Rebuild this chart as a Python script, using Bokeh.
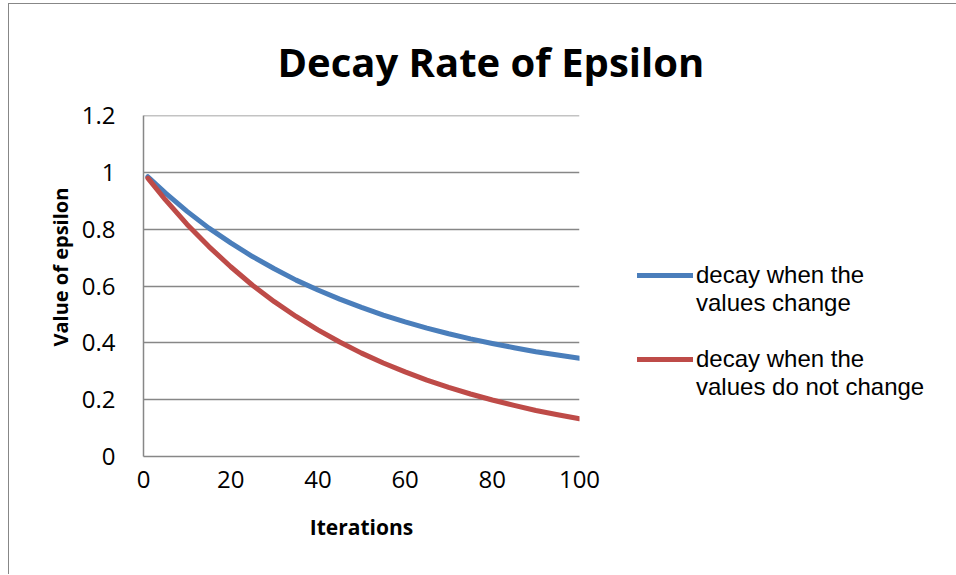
from bokeh.plotting import figure
from bokeh.models import (FixedTicker, CustomJSTickFormatter, Legend, LegendItem, Range1d, Title)
from bokeh.embed import file_html
from bokeh.resources import INLINE

# ---- data ----
iterations = [1, 5, 10, 15, 20, 25, 30, 35, 40, 45, 50, 55, 60, 65, 70, 75, 80, 85, 90, 95, 100]
decay_values_change = [0.985, 0.928, 0.863, 0.804, 0.752, 0.704, 0.661, 0.621, 0.586, 0.554, 0.525,
                       0.498, 0.474, 0.452, 0.432, 0.414, 0.398, 0.383, 0.369, 0.357, 0.346]
decay_values_no_change = [0.980, 0.904, 0.817, 0.739, 0.668, 0.603, 0.545, 0.493, 0.446, 0.403, 0.364,
                          0.329, 0.298, 0.269, 0.243, 0.220, 0.199, 0.180, 0.162, 0.147, 0.133]
x_ticks = [0, 20, 40, 60, 80, 100]
y_ticks = [0, 0.2, 0.4, 0.6, 0.8, 1.0, 1.2]
title_text = "Decay Rate of Epsilon"
x_title = "Iterations"
y_title = "Value of epsilon"
legend_labels = [" \ndecay when the\nvalues change", " \ndecay when the\nvalues do not change"]

BLUE = "#4A7EBB"
RED = "#BE4B48"
GRID = "#878787"
FONT = "Open Sans"
LEGEND_FONT = "Liberation Sans"

p = figure(frame_width=436, frame_height=341,
           min_border_left=134, min_border_right=376, min_border_top=111, min_border_bottom=118,
           x_range=Range1d(0, 100), y_range=Range1d(0, 1.2005),
           output_backend="svg", toolbar_location=None,
           background_fill_color="white", border_fill_color="white")
p.styles = {"margin-left": "8px", "margin-top": "3px",
            "border-left": "1px solid #878787", "border-top": "1px solid #878787"}
p.outline_line_color = None

# title
p.title.text = title_text
p.title.text_font = FONT
p.title.text_font_style = "bold"
p.title.text_font_size = "40px"
p.title.text_color = "black"
p.title.align = "left"
p.title.offset = 134
p.title.vertical_align = "bottom"
p.title.standoff = 54

# axes
for ax in (p.xaxis[0], p.yaxis[0]):
    ax.axis_line_color = GRID
    ax.axis_line_width = 1.5
    ax.major_tick_out = 0
    ax.major_tick_in = 0
    ax.minor_tick_out = 0
    ax.minor_tick_in = 0
    ax.major_label_text_font = FONT
    ax.major_label_text_font_size = "24px"
    ax.major_label_text_color = "black"
    ax.axis_label_text_font = FONT
    ax.axis_label_text_font_style = "bold"
    ax.axis_label_text_color = "black"

p.xaxis.ticker = FixedTicker(ticks=x_ticks)
p.yaxis.ticker = FixedTicker(ticks=y_ticks)
p.yaxis.formatter = CustomJSTickFormatter(code="return tick.toFixed(1).replace(/\\.0$/, '');")
p.xaxis.axis_label = x_title
p.xaxis.axis_label_text_font_size = "21px"
p.xaxis.major_label_standoff = 14
p.yaxis.major_label_standoff = 28
p.xaxis.axis_label_standoff = 22

# y-axis title as a side title so that it can be placed along the axis
y_title_obj = Title(text=y_title, align="left", offset=110, standoff=9,
                    text_font=FONT, text_font_style="bold", text_font_size="20px",
                    text_color="black")
p.add_layout(y_title_obj, "left")

p.xgrid.visible = False
p.ygrid.grid_line_color = GRID
p.ygrid.grid_line_width = 1.5

# lines
blue = p.line(iterations, decay_values_change, line_color=BLUE, line_width=5, line_cap="round", line_join="round")
red = p.line(iterations, decay_values_no_change, line_color=RED, line_width=5, line_cap="round", line_join="round")

legend = Legend(items=[LegendItem(label=legend_labels[0], renderers=[blue]),
                       LegendItem(label=legend_labels[1], renderers=[red])],
                location=(58, 55), orientation="vertical",
                border_line_color=None, background_fill_alpha=0,
                padding=0, margin=0, spacing=0,
                glyph_height=20, glyph_width=56, label_standoff=3,
                label_text_font=LEGEND_FONT, label_text_font_size="24px", label_text_color="black",
                label_text_line_height=1.1)
p.add_layout(legend, "right")

open("out.html", "w").write(file_html(p, INLINE))
